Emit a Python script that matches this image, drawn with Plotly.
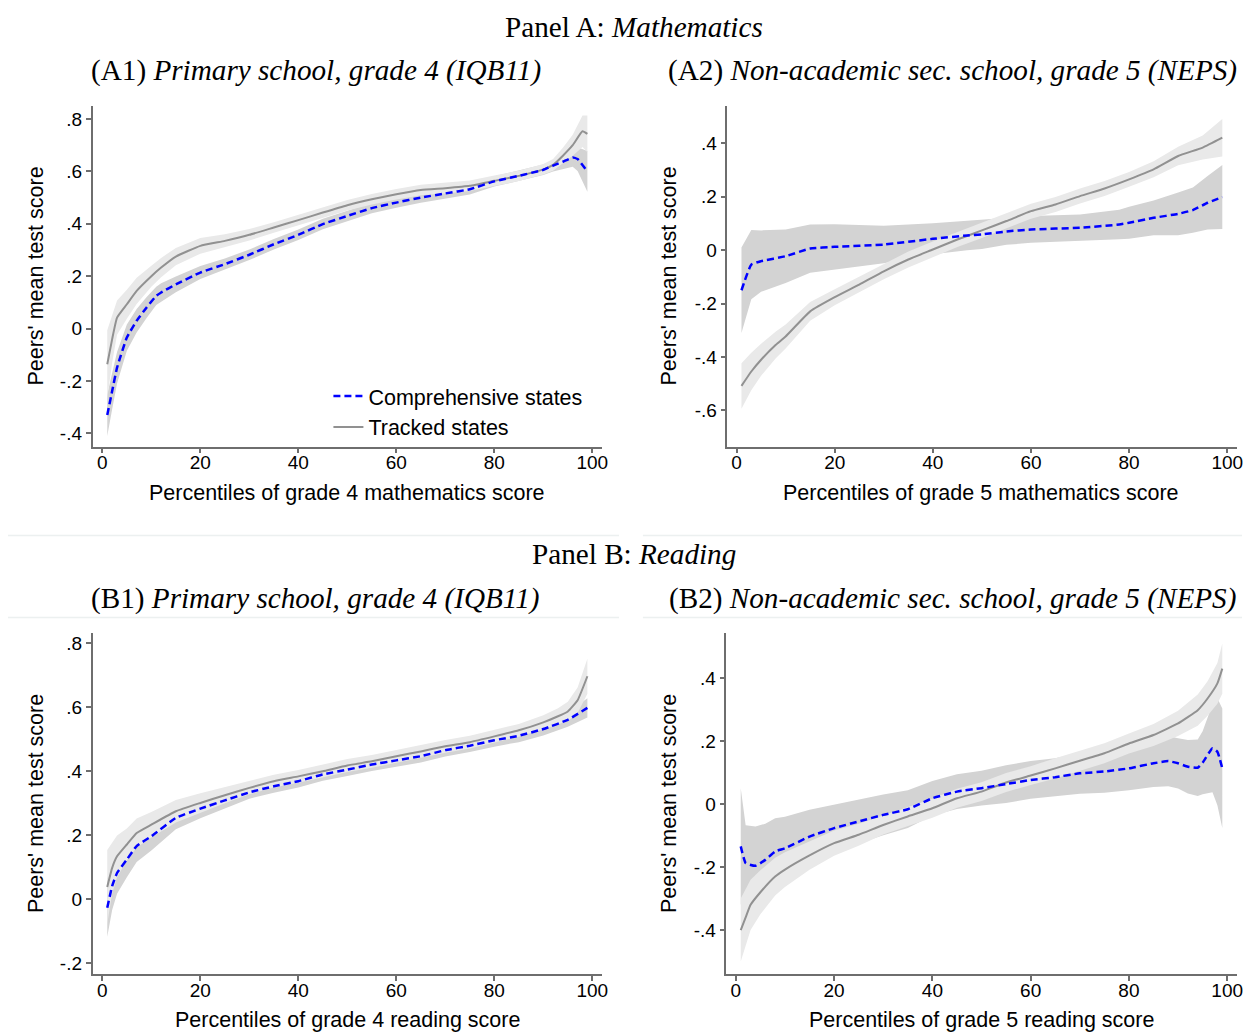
import plotly.graph_objects as go

# ---------------- Data ----------------
# Panel A1: Mathematics, primary school grade 4 (IQB11)
a1_trk_x = [1, 2, 3, 5, 7, 10, 12, 15, 20, 25, 30, 35, 40, 45, 50, 55, 60, 65, 70, 75, 80, 85, 90, 92, 94, 96, 98, 99]
a1_trk_y = [-0.136, -0.04, 0.042, 0.093, 0.144, 0.20, 0.233, 0.275, 0.316, 0.335, 0.358, 0.386, 0.414, 0.443, 0.471,
            0.494, 0.513, 0.529, 0.536, 0.545, 0.564, 0.583, 0.608, 0.625, 0.66, 0.70, 0.753, 0.743]
a1_trk_hw = [0.13, 0.09, 0.065, 0.055, 0.05, 0.04, 0.037, 0.033, 0.03, 0.025, 0.022, 0.02, 0.02, 0.02, 0.02,
             0.02, 0.02, 0.02, 0.02, 0.02, 0.02, 0.02, 0.02, 0.022, 0.03, 0.04, 0.06, 0.07]
a1_comp_x = [1, 2, 3, 5, 7, 9, 11, 12, 15, 20, 25, 30, 35, 40, 45, 50, 55, 60, 65, 70, 75, 80, 85, 90, 92, 94, 96, 97, 99]
a1_comp_y = [-0.33, -0.238, -0.149, -0.034, 0.03, 0.08, 0.125, 0.138, 0.169, 0.214, 0.246, 0.282, 0.322, 0.358, 0.399,
             0.43, 0.46, 0.481, 0.50, 0.516, 0.532, 0.562, 0.583, 0.606, 0.622, 0.637, 0.653, 0.647, 0.60]
a1_comp_hw = [0.08, 0.07, 0.06, 0.05, 0.045, 0.04, 0.035, 0.035, 0.03, 0.025, 0.022, 0.02, 0.02, 0.02, 0.02,
              0.02, 0.02, 0.02, 0.02, 0.02, 0.02, 0.02, 0.02, 0.02, 0.022, 0.028, 0.035, 0.045, 0.078]

# Panel A2: Mathematics, non-academic secondary school grade 5 (NEPS)
a2_trk_x = [1, 3, 5, 8, 10, 15, 20, 25, 30, 35, 40, 45, 50, 55, 60, 65, 70, 75, 80, 85, 90, 95, 99]
a2_trk_y = [-0.508, -0.454, -0.41, -0.354, -0.323, -0.229, -0.176, -0.129, -0.079, -0.035, 0.0025, 0.04, 0.074,
            0.109, 0.146, 0.171, 0.2025, 0.231, 0.265, 0.3025, 0.3525, 0.384, 0.421]
a2_trk_hw = [0.085, 0.07, 0.06, 0.05, 0.045, 0.035, 0.03, 0.03, 0.03, 0.03, 0.03, 0.028, 0.028,
             0.028, 0.028, 0.028, 0.028, 0.028, 0.028, 0.03, 0.035, 0.045, 0.07]
a2_comp_x = [1, 3, 5, 10, 15, 20, 30, 40, 47, 50, 55, 60, 70, 78, 80, 85, 90, 93, 96, 99]
a2_comp_y = [-0.15, -0.054, -0.041, -0.0225, 0.006, 0.0125, 0.021, 0.0425, 0.055, 0.059, 0.07, 0.0775, 0.084,
             0.096, 0.1025, 0.121, 0.136, 0.15, 0.1775, 0.199]
a2_comp_hw = [0.16, 0.13, 0.115, 0.1, 0.09, 0.085, 0.07, 0.058, 0.055, 0.055, 0.05, 0.05, 0.05, 0.055, 0.06,
              0.065, 0.08, 0.085, 0.1, 0.12]

# Panel B1: Reading, primary school grade 4 (IQB11)
b1_trk_x = [1, 2, 3, 5, 7, 10, 15, 20, 25, 30, 35, 40, 45, 50, 55, 60, 65, 70, 75, 80, 85, 90, 93, 95, 97, 99]
b1_trk_y = [0.0375, 0.097, 0.133, 0.17, 0.206, 0.232, 0.274, 0.30, 0.324, 0.347, 0.368, 0.383, 0.399, 0.417,
            0.43, 0.446, 0.461, 0.477, 0.49, 0.508, 0.527, 0.552, 0.571, 0.586, 0.621, 0.696]
b1_trk_hw = [0.115, 0.08, 0.065, 0.05, 0.045, 0.04, 0.035, 0.03, 0.025, 0.02, 0.02, 0.02, 0.02, 0.02,
             0.02, 0.02, 0.02, 0.02, 0.02, 0.02, 0.02, 0.022, 0.025, 0.03, 0.04, 0.055]
b1_comp_x = [1, 2, 3, 5, 7, 10, 15, 20, 25, 30, 35, 40, 45, 50, 55, 60, 65, 70, 75, 80, 85, 90, 95, 99]
b1_comp_y = [-0.028, 0.04, 0.081, 0.123, 0.165, 0.196, 0.253, 0.282, 0.308, 0.333, 0.352, 0.368, 0.389, 0.404,
             0.42, 0.433, 0.446, 0.465, 0.479, 0.496, 0.51, 0.531, 0.56, 0.597]
b1_comp_hw = [0.09, 0.075, 0.065, 0.055, 0.05, 0.045, 0.035, 0.03, 0.025, 0.02, 0.02, 0.02, 0.02, 0.02,
              0.02, 0.02, 0.02, 0.02, 0.02, 0.02, 0.02, 0.02, 0.022, 0.03]

# Panel B2: Reading, non-academic secondary school grade 5 (NEPS)
b2_trk_x = [1, 2, 3, 5, 8, 10, 15, 20, 25, 30, 35, 40, 45, 50, 55, 60, 65, 70, 75, 80, 85, 90, 94, 96, 98, 99]
b2_trk_y = [-0.40, -0.36, -0.32, -0.28, -0.23, -0.208, -0.163, -0.124, -0.097, -0.066, -0.039, -0.013, 0.019,
            0.04, 0.069, 0.091, 0.114, 0.138, 0.162, 0.193, 0.22, 0.257, 0.299, 0.336, 0.384, 0.431]
b2_trk_hw = [0.1, 0.09, 0.08, 0.07, 0.06, 0.055, 0.045, 0.04, 0.035, 0.03, 0.03, 0.03, 0.03,
             0.03, 0.03, 0.03, 0.032, 0.032, 0.032, 0.032, 0.035, 0.04, 0.05, 0.055, 0.065, 0.08]
b2_comp_x = [1, 2, 4, 6, 8, 10, 15, 20, 25, 30, 35, 40, 45, 50, 55, 60, 65, 70, 75, 80, 85, 88, 90, 92, 94, 95,
             97, 98, 99]
b2_comp_y = [-0.134, -0.187, -0.196, -0.177, -0.15, -0.14, -0.103, -0.076, -0.055, -0.034, -0.016, 0.019, 0.04,
             0.051, 0.064, 0.077, 0.086, 0.098, 0.104, 0.114, 0.13, 0.137, 0.13, 0.119, 0.116, 0.132, 0.178,
             0.167, 0.114]
b2_comp_hw = [0.185, 0.12, 0.125, 0.115, 0.105, 0.1, 0.085, 0.075, 0.07, 0.065, 0.06, 0.055, 0.055,
              0.055, 0.06, 0.06, 0.06, 0.065, 0.068, 0.07, 0.075, 0.08, 0.08, 0.085, 0.09, 0.1,
              0.14, 0.17, 0.19]

# Tick labels
x_tickvals = [0, 20, 40, 60, 80, 100]
x_ticktext = ["0", "20", "40", "60", "80", "100"]
ya_tickvals = [-0.4, -0.2, 0, 0.2, 0.4, 0.6, 0.8]
ya_ticktext = ["-.4", "-.2", "0", ".2", ".4", ".6", ".8"]
ya2_tickvals = [-0.6, -0.4, -0.2, 0, 0.2, 0.4]
ya2_ticktext = ["-.6", "-.4", "-.2", "0", ".2", ".4"]
yb_tickvals = [-0.2, 0, 0.2, 0.4, 0.6, 0.8]
yb_ticktext = ["-.2", "0", ".2", ".4", ".6", ".8"]
yb2_tickvals = [-0.4, -0.2, 0, 0.2, 0.4]
yb2_ticktext = ["-.4", "-.2", "0", ".2", ".4"]

series_names = ["Comprehensive states", "Tracked states"]

# ---------------- Figure ----------------
W, H = 1250, 1032
SANS = "Liberation Sans, Arial, sans-serif"
SERIF = "Liberation Serif, Times New Roman, serif"
COMP_BAND = "rgb(211,211,211)"
TRK_BAND = "rgb(233,233,233)"
TRK_LINE = "rgb(145,145,145)"
COMP_LINE = "rgb(0,0,255)"
AXIS_COL = "rgb(110,110,110)"


def px_x(p):
    return p / W


def px_y(p):
    return 1 - p / H


panels = [
    dict(xa="x", ya="y", comp=(a1_comp_x, a1_comp_y, a1_comp_hw), trk=(a1_trk_x, a1_trk_y, a1_trk_hw),
         dom_x=(93, 605), dom_y=(105, 446), xr=[-2, 102], yr=[-0.45, 0.85],
         yt=(ya_tickvals, ya_ticktext), legend=True),
    dict(xa="x2", ya="y2", comp=(a2_comp_x, a2_comp_y, a2_comp_hw), trk=(a2_trk_x, a2_trk_y, a2_trk_hw),
         dom_x=(731, 1243), dom_y=(105, 446), xr=[-1.85, 102], yr=[-0.735, 0.54],
         yt=(ya2_tickvals, ya2_ticktext), legend=False),
    dict(xa="x3", ya="y3", comp=(b1_comp_x, b1_comp_y, b1_comp_hw), trk=(b1_trk_x, b1_trk_y, b1_trk_hw),
         dom_x=(93, 605), dom_y=(633, 974), xr=[-2, 102], yr=[-0.235, 0.83],
         yt=(yb_tickvals, yb_ticktext), legend=False),
    dict(xa="x4", ya="y4", comp=(b2_comp_x, b2_comp_y, b2_comp_hw), trk=(b2_trk_x, b2_trk_y, b2_trk_hw),
         dom_x=(730, 1243), dom_y=(633, 974), xr=[-1.9, 102], yr=[-0.54, 0.543],
         yt=(yb2_tickvals, yb2_ticktext), legend=False),
]

fig = go.Figure()


def band(xs, ys, hw, color, xa, ya):
    upper = [y + h for y, h in zip(ys, hw)]
    lower = [y - h for y, h in zip(ys, hw)]
    return go.Scatter(x=list(xs) + list(xs)[::-1], y=upper + lower[::-1], fill="toself", fillcolor=color,
                      line=dict(width=0, color=color), mode="lines", showlegend=False, hoverinfo="skip",
                      xaxis=xa, yaxis=ya)


for p in panels:
    cx, cy, ch = p["comp"]
    tx, ty, th = p["trk"]
    fig.add_trace(band(cx, cy, ch, COMP_BAND, p["xa"], p["ya"]))
    fig.add_trace(band(tx, ty, th, TRK_BAND, p["xa"], p["ya"]))
    fig.add_trace(go.Scatter(x=tx, y=ty, mode="lines", name=series_names[1],
                             line=dict(color=TRK_LINE, width=2, shape="spline", smoothing=0.4),
                             showlegend=p["legend"], legendrank=2, xaxis=p["xa"], yaxis=p["ya"]))
    fig.add_trace(go.Scatter(x=cx, y=cy, mode="lines", name=series_names[0],
                             line=dict(color=COMP_LINE, width=2.5, dash="7px,4px", shape="spline", smoothing=0.4),
                             showlegend=p["legend"], legendrank=1, xaxis=p["xa"], yaxis=p["ya"]))

layout = dict(
    width=W, height=H, margin=dict(l=0, r=0, t=0, b=0),
    paper_bgcolor="white", plot_bgcolor="white",
    font=dict(family=SANS, color="black", size=19),
    showlegend=True,
    legend=dict(x=px_x(330), y=px_y(375), xanchor="left", yanchor="top", bgcolor="rgba(0,0,0,0)",
                font=dict(family=SANS, size=21.5, color="black"), tracegroupgap=0, itemwidth=30),
)

for i, p in enumerate(panels):
    sfx = "" if i == 0 else str(i + 1)
    layout["xaxis" + sfx] = dict(
        domain=[px_x(p["dom_x"][0]), px_x(p["dom_x"][1])], range=p["xr"], anchor="y" + sfx,
        showline=True, linecolor=AXIS_COL, linewidth=1.5, ticks="outside", ticklen=5, tickwidth=1.5,
        tickcolor=AXIS_COL, tickvals=x_tickvals, ticktext=x_ticktext, showgrid=False, zeroline=False,
        ticklabelstandoff=-7,
        tickfont=dict(family=SANS, size=19, color="black"), fixedrange=True)
    layout["yaxis" + sfx] = dict(
        domain=[px_y(p["dom_y"][1]), px_y(p["dom_y"][0])], range=p["yr"], anchor="x" + sfx,
        showline=True, linecolor=AXIS_COL, linewidth=1.5, ticks="outside", ticklen=5, tickwidth=1.5,
        tickcolor=AXIS_COL, tickvals=p["yt"][0], ticktext=p["yt"][1], showgrid=False, zeroline=False,
        tickfont=dict(family=SANS, size=19, color="black"), fixedrange=True)

fig.update_layout(**layout)

annotations = []


def ann(text, x, y, size, family, angle=0):
    annotations.append(dict(text=text, x=px_x(x), y=px_y(y), xref="paper", yref="paper", showarrow=False,
                            xanchor="center", yanchor="middle", textangle=angle,
                            font=dict(family=family, size=size, color="black")))


TS = 29.2
ann("Panel A: <i>Mathematics</i>", 637, 26, TS, SERIF)
ann("(A1) <i>Primary school, grade 4 (IQB11)</i>", 317.5, 70, TS, SERIF)
ann("(A2) <i>Non-academic sec. school, grade 5 (NEPS)</i>", 957, 70, TS, SERIF)
ann("Panel B: <i>Reading</i>", 637, 554, TS, SERIF)
ann("(B1) <i>Primary school, grade 4 (IQB11)</i>", 317.5, 598, TS, SERIF)
ann("(B2) <i>Non-academic sec. school, grade 5 (NEPS)</i>", 957, 598, TS, SERIF)

ytitle = "Peers' mean test score"
ann(ytitle, 36, 275, 21.5, SANS, -90)
ann(ytitle, 672, 275, 21.5, SANS, -90)
ann(ytitle, 36, 803, 21.5, SANS, -90)
ann(ytitle, 672, 803, 21.5, SANS, -90)
ann("Percentiles of grade 4 mathematics score", 349, 492, 21.5, SANS)
ann("Percentiles of grade 5 mathematics score", 986, 492, 21.5, SANS)
ann("Percentiles of grade 4 reading score", 349, 1020, 21.5, SANS)
ann("Percentiles of grade 5 reading score", 986, 1020, 21.5, SANS)

shapes = []
for yy in (535, 617):
    for x0, x1 in ((8, 622), (646, 1248)):
        shapes.append(dict(type="line", xref="paper", yref="paper", x0=px_x(x0), x1=px_x(x1),
                           y0=px_y(yy), y1=px_y(yy), line=dict(color="rgb(236,240,240)", width=1.5)))

fig.update_layout(annotations=annotations, shapes=shapes)

fig.write_html("out.html")
